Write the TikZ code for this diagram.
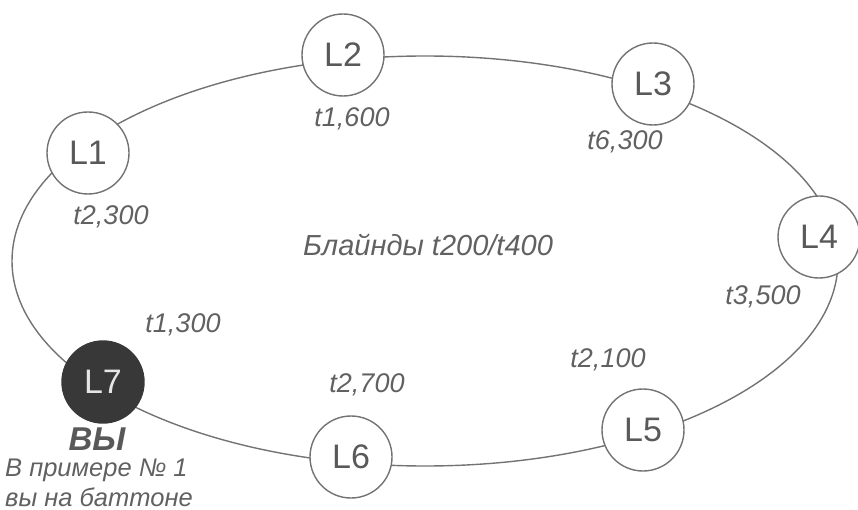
\documentclass[tikz,border=0pt]{standalone}
\usepackage{fontspec}
\setmainfont{Liberation Sans}
\begin{document}
\begin{tikzpicture}[x=1pt,y=-1pt,
  ring/.style={draw=black!55,line width=1.4pt},
  seat/.style={circle,draw=black!55,line width=1.4pt,fill=white,minimum size=82pt,inner sep=0pt,font=\fontsize{34}{38}\selectfont,text=black!65},
  you/.style={seat,fill=black!78,draw=black!78,text=black!10},
  stack/.style={font=\fontsize{27}{30}\selectfont\itshape,text=black!62},
  note/.style={font=\fontsize{25.5}{30}\selectfont\itshape,text=black!62,anchor=west,inner sep=0pt}]
\useasboundingbox (0,0) rectangle (858,510);
\coordinate (c) at (425,261);
\draw[ring] (c) ellipse [x radius=413, y radius=205];
\node[seat] (L1) at (88,153) {L1};
\node[seat] (L2) at (343,55) {L2};
\node[seat] (L3) at (653,84) {L3};
\node[seat] (L4) at (819,237) {L4};
\node[seat] (L5) at (643,430) {L5};
\node[seat] (L6) at (351,457) {L6};
\node[you] (L7) at (103,382) {L7};
\node[stack] (s2) at (352,119) {t1,600};
\node[stack] (s3) at (625,142) {t6,300};
\node[stack] (s1) at (111,217) {t2,300};
\node[stack,font=\fontsize{29}{32}\selectfont\itshape] (bl) at (428,245) {Блайнды t200/t400};
\node[stack] (s4) at (763,297) {t3,500};
\node[stack] (s7) at (183,325) {t1,300};
\node[stack] (s5) at (608,360) {t2,100};
\node[stack] (s6) at (367,385) {t2,700};
\node[font=\fontsize{33}{36}\selectfont\bfseries\itshape,text=black!65] (vy) at (97,439) {ВЫ};
\node[note] (n1) at (5,470) {В примере № 1};
\node[note] (n2) at (5,497) {вы на баттоне};
\end{tikzpicture}
\end{document}
